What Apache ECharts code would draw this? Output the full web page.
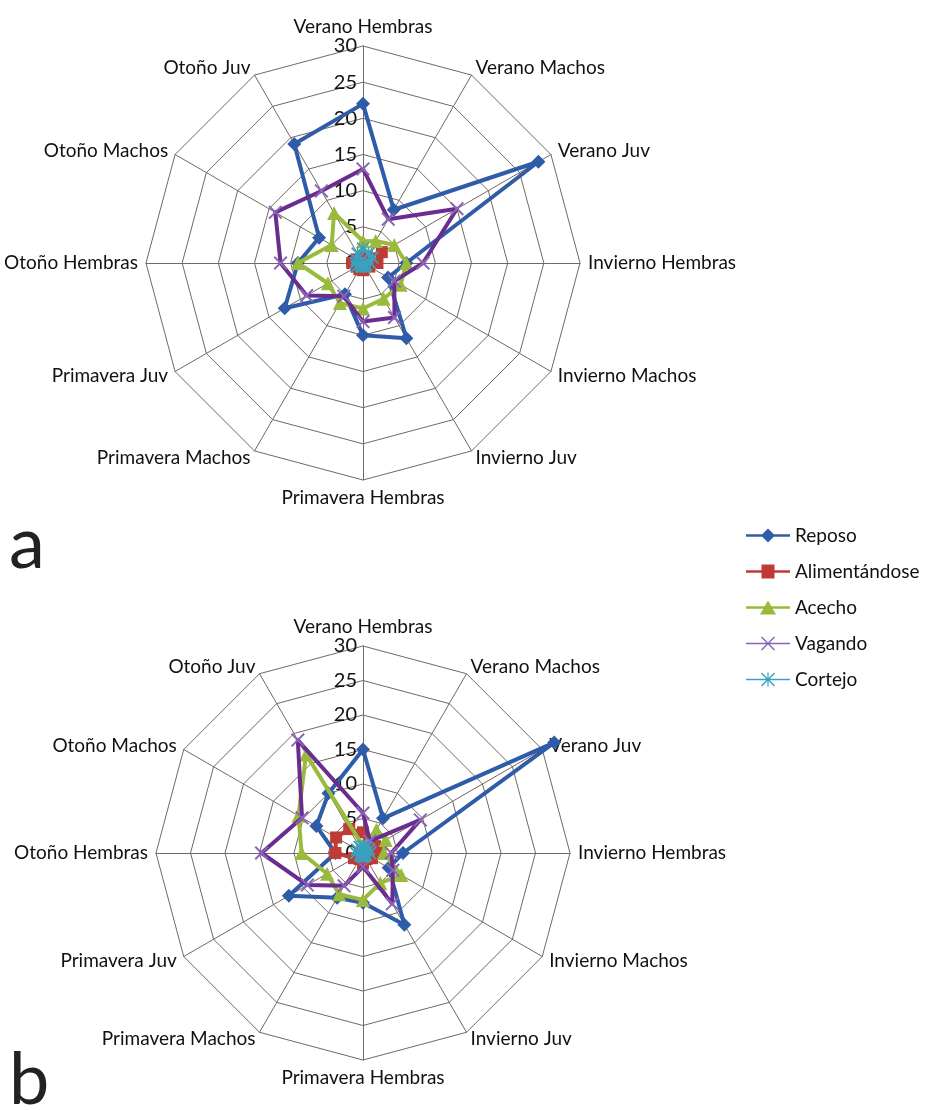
<!DOCTYPE html>
<html>
<head>
<meta charset="utf-8">
<script src="https://cdn.jsdelivr.net/npm/echarts@6/dist/echarts.min.js"></script>
<style>
  html, body { margin: 0; padding: 0; background: #ffffff; }
  #chart { width: 932px; height: 1110px; }
</style>
</head>
<body>
<div id="chart"></div>
<script>
// Radar axes: season x group, clockwise from the top
const categories = [
  'Verano Hembras', 'Verano Machos', 'Verano Juv',
  'Invierno Hembras', 'Invierno Machos', 'Invierno Juv',
  'Primavera Hembras', 'Primavera Machos', 'Primavera Juv',
  'Otoño Hembras', 'Otoño Machos', 'Otoño Juv'
];
const behaviours = ['Reposo', 'Alimentándose', 'Acecho', 'Vagando', 'Cortejo'];

// Panel a
const reposoA        = [22, 8.5, 28, 6, 4, 12, 10, 5, 12.5, 9, 7, 19];
const alimentandoseA = [0.5, 1, 3, 2, 1, 0.5, 1, 1, 1, 1.5, 1, 0.5];
const acechoA        = [3, 3.5, 5, 6, 6, 5.7, 6.3, 6.4, 5.6, 9, 5, 8];
const vagandoA       = [13, 7, 15, 8.3, 5, 8.7, 8.1, 5.3, 9, 11.4, 14, 11.5];
const cortejoA       = [2, 1.5, 1.5, 1, 0.5, 0.5, 0.5, 0.5, 1, 1, 1, 1.5];

// Panel b
const reposoB        = [15, 5.8, 32, 5.8, 4.3, 12, 7.2, 7.5, 12.4, 4, 7.8, 10];
const alimentandoseB = [3, 2, 2, 2.5, 1.5, 1, 1.5, 1, 1.5, 4, 4.5, 4];
const acechoB        = [1, 3.9, 3.8, 3, 6.4, 5, 6.8, 6.9, 6, 8.9, 10.8, 16.5];
const vagandoB       = [5.8, 2, 9.6, 4.1, 5, 8.5, 2, 5.5, 9.3, 14.7, 10.2, 18.9];
const cortejoB       = [1, 1, 1, 1, 0.5, 0.5, 0.5, 0.5, 0.5, 1, 1, 1];

// Value scale of every spoke
const scaleMin = 0;
const scaleMax = 30;
const scaleStep = 5;

const panelLetters = ['a', 'b'];

// ECharts lays radar spokes out counter-clockwise, so feed them in the
// order 0, 11, 10, ..., 1 to read clockwise on screen.
const spokeOrder = [0].concat(categories.map((_, i) => categories.length - 1 - i).slice(0, categories.length - 1));
const toSpokes = arr => spokeOrder.map(i => arr[i]);

// Marker shapes
const xMark = 'path://M0,1 L1,0 L10,9 L9,10 Z M9,0 L10,1 L1,10 L0,9 Z';
const starMark = xMark + ' M4.4,0 H5.6 V10 H4.4 Z';

const styles = {
  'Reposo':        { line: '#2f5ca8', mark: '#2f5ca8', symbol: 'diamond', size: 14 },
  'Alimentándose': { line: '#bf3b35', mark: '#bf3b35', symbol: 'rect', size: 12 },
  'Acecho':        { line: '#9aba3c', mark: '#9aba3c', symbol: 'triangle', size: 14 },
  'Vagando':       { line: '#6a2c8f', mark: '#8a64b8', symbol: xMark, size: 14 },
  'Cortejo':       { line: '#3aa2bf', mark: '#3aa2bf', symbol: starMark, size: 13 }
};

// Legend icons: a short line with the series marker in its middle (44 x 14 box)
const legendIcons = {
  'Reposo':        'path://M0,5.8 H44 V8.2 H0 Z M22,0 L29,7 L22,14 L15,7 Z',
  'Alimentándose': 'path://M0,5.8 H44 V8.2 H0 Z M15.5,0.5 H28.5 V13.5 H15.5 Z',
  'Acecho':        'path://M0,5.8 H44 V8.2 H0 Z M22,0 L30,14 L14,14 Z',
  'Vagando':       'path://M0,6.2 H44 V7.8 H0 Z M15,1 L16,0 L29,13 L28,14 Z M28,0 L29,1 L16,14 L15,13 Z',
  'Cortejo':       'path://M0,6.2 H44 V7.8 H0 Z M15,1 L16,0 L29,13 L28,14 Z M28,0 L29,1 L16,14 L15,13 Z M21.4,0 H22.6 V14 H21.4 Z'
};

const panelData = [
  [reposoA, alimentandoseA, acechoA, vagandoA, cortejoA],
  [reposoB, alimentandoseB, acechoB, vagandoB, cortejoB]
];

const gridColor = '#74685f';
const font = 'Lato, "Open Sans", sans-serif';

function makeRadar(center, radius) {
  const names = toSpokes(categories);
  return {
    center: center,
    radius: radius,
    shape: 'polygon',
    startAngle: 90,
    splitNumber: (scaleMax - scaleMin) / scaleStep,
    nameGap: 8,
    axisName: { color: '#111', fontSize: 19, fontFamily: font },
    indicator: names.map((name, i) => {
      const ind = { name: name, min: scaleMin, max: scaleMax };
      if (i === 0) {
        ind.axisLabel = { show: true };
      }
      return ind;
    }),
    axisLine: { lineStyle: { color: gridColor, width: 1 } },
    splitLine: { lineStyle: { color: gridColor, width: 1 } },
    splitArea: { show: false },
    axisTick: { show: false },
    axisLabel: {
      show: false,
      color: '#111',
      fontSize: 20,
      fontFamily: font,
      margin: 6
    }
  };
}

const series = [];
panelData.forEach((rows, p) => {
  rows.forEach((values, k) => {
    const name = behaviours[k];
    const st = styles[name];
    series.push({
      type: 'radar',
      radarIndex: p,
      symbol: st.symbol,
      symbolSize: st.size,
      z: 2 + k,
      lineStyle: { color: st.line, width: 4 },
      itemStyle: { color: st.mark },
      data: [{ name: name, value: toSpokes(values) }]
    });
  });
});

const chart = echarts.init(document.getElementById('chart'), null, { renderer: 'canvas' });
chart.setOption({
  backgroundColor: '#ffffff',
  animation: false,
  radar: [
    makeRadar([363, 263], 217),
    makeRadar([363, 853], 207)
  ],
  legend: {
    orient: 'vertical',
    left: 741,
    top: 521,
    itemWidth: 44,
    itemHeight: 14,
    itemGap: 17,
    symbolKeepAspect: false,
    textStyle: { color: '#111', fontSize: 19, fontFamily: font, padding: [0, 0, 0, 0] },
    data: behaviours.map(n => ({ name: n, icon: legendIcons[n] }))
  },
  graphic: panelLetters.map((t, i) => ({
    type: 'text',
    left: 9,
    top: i === 0 ? 509 : 1045,
    style: { text: t, fontSize: 72, fontFamily: font, fill: '#222' }
  })),
  series: series
});
</script>
</body>
</html>
